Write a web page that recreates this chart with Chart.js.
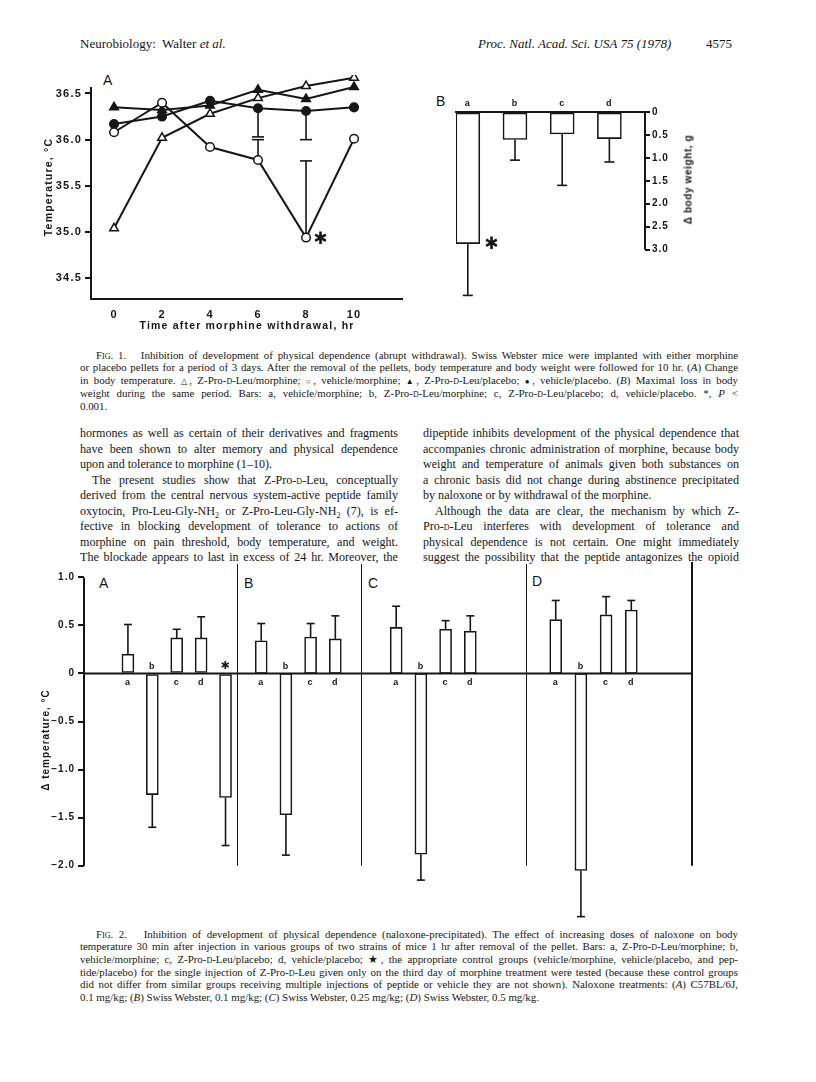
<!DOCTYPE html>
<html>
<head>
<meta charset="utf-8">
<script src="https://cdn.jsdelivr.net/npm/chart.js@4.4.1/dist/chart.umd.min.js"></script>
<style>
html,body{margin:0;padding:0;background:#fff;}
#page{position:relative;width:816px;height:1082px;overflow:hidden;font-family:"Liberation Serif","Times New Roman",serif;color:#161616;}
canvas{position:absolute;}
.t{position:absolute;white-space:nowrap;}
.cap{position:absolute;left:80px;width:658px;font-size:10.9px;line-height:13px;height:13px;text-align:justify;text-align-last:justify;}
.cap.l{text-align:left;text-align-last:left;}
.body{position:absolute;font-size:12.1px;line-height:16px;height:16px;text-align:justify;text-align-last:justify;}
.body.l{text-align:left;text-align-last:left;}
.lc{left:80px;width:318px;}
.rc{left:423px;width:316px;}
.sc{font-variant:small-caps;}
.panel{position:absolute;font-family:"Liberation Sans",Arial,sans-serif;font-size:14px;color:#161616;}
.rot{position:absolute;font-family:"Liberation Sans",Arial,sans-serif;font-weight:bold;font-size:10px;letter-spacing:0.6px;transform:rotate(-90deg);transform-origin:center center;white-space:nowrap;}
</style>
</head>
<body>
<div id="page">

<div class="t" style="left:80px;top:36px;font-size:13px;">Neurobiology:&nbsp; Walter <i>et al.</i></div>
<div class="t" style="left:478px;top:36px;font-size:13px;"><i>Proc. Natl. Acad. Sci. USA 75 (1978)</i></div>
<div class="t" style="left:706px;top:36px;font-size:13px;">4575</div>

<div class="panel" style="left:103px;top:72px;">A</div>
<div class="panel" style="left:436px;top:93px;">B</div>
<canvas id="c1a" width="373" height="257" style="left:30px;top:75px;"></canvas>
<canvas id="c1b" width="270" height="220" style="left:430px;top:85px;"></canvas>
<div class="rot" style="left:638px;top:174px;width:100px;text-align:center;">Δ body weight, g</div>

<div class="cap" style="top:348.5px;padding-left:16px;width:642px;">F<span class="sc">ig</span>. 1.&nbsp;&nbsp; Inhibition of development of physical dependence (abrupt withdrawal). Swiss Webster mice were implanted with either morphine</div>
<div class="cap" style="top:361.25px;">or placebo pellets for a period of 3 days. After the removal of the pellets, body temperature and body weight were followed for 10 hr. (<i>A</i>) Change</div>
<div class="cap" style="top:374px;">in body temperature. <span style="font-size:8px">△</span>, Z-Pro-<span class="sc">d</span>-Leu/morphine; <span style="font-size:8px">○</span>, vehicle/morphine; <span style="font-size:8px">▲</span>, Z-Pro-<span class="sc">d</span>-Leu/placebo; <span style="font-size:8px">●</span>, vehicle/placebo. (<i>B</i>) Maximal loss in body</div>
<div class="cap" style="top:386.75px;">weight during the same period. Bars: a, vehicle/morphine; b, Z-Pro-<span class="sc">d</span>-Leu/morphine; c, Z-Pro-<span class="sc">d</span>-Leu/placebo; d, vehicle/placebo. *, <i>P</i> &lt;</div>
<div class="cap l" style="top:399.5px;">0.001.</div>

<div class="body lc" style="top:425px;">hormones as well as certain of their derivatives and fragments</div>
<div class="body lc" style="top:440.5px;">have been shown to alter memory and physical dependence</div>
<div class="body lc l" style="top:456px;">upon and tolerance to morphine (1–10).</div>
<div class="body lc" style="top:471.5px;padding-left:12px;width:306px;">The present studies show that Z-Pro-<span class="sc">d</span>-Leu, conceptually</div>
<div class="body lc" style="top:487px;">derived from the central nervous system-active peptide family</div>
<div class="body lc" style="top:502.5px;">oxytocin, Pro-Leu-Gly-NH<sub style="font-size:8px;line-height:0">2</sub> or Z-Pro-Leu-Gly-NH<sub style="font-size:8px;line-height:0">2</sub> (7), is ef-</div>
<div class="body lc" style="top:518px;">fective in blocking development of tolerance to actions of</div>
<div class="body lc" style="top:533.5px;">morphine on pain threshold, body temperature, and weight.</div>
<div class="body lc" style="top:549px;">The blockade appears to last in excess of 24 hr. Moreover, the</div>

<div class="body rc" style="top:425px;">dipeptide inhibits development of the physical dependence that</div>
<div class="body rc" style="top:440.5px;">accompanies chronic administration of morphine, because body</div>
<div class="body rc" style="top:456px;">weight and temperature of animals given both substances on</div>
<div class="body rc" style="top:471.5px;">a chronic basis did not change during abstinence precipitated</div>
<div class="body rc l" style="top:487px;">by naloxone or by withdrawal of the morphine.</div>
<div class="body rc" style="top:502.5px;padding-left:12px;width:304px;">Although the data are clear, the mechanism by which Z-</div>
<div class="body rc" style="top:518px;">Pro-<span class="sc">d</span>-Leu interferes with development of tolerance and</div>
<div class="body rc" style="top:533.5px;">physical dependence is not certain. One might immediately</div>
<div class="body rc" style="top:549px;">suggest the possibility that the peptide antagonizes the opioid</div>

<div class="panel" style="left:99px;top:575px;">A</div>
<div class="panel" style="left:244px;top:575px;">B</div>
<div class="panel" style="left:368px;top:575px;">C</div>
<div class="panel" style="left:532px;top:573px;">D</div>
<canvas id="c2A" width="207" height="360" style="left:30px;top:560px;"></canvas>
<canvas id="c2B" width="124" height="360" style="left:237px;top:560px;"></canvas>
<canvas id="c2C" width="165" height="360" style="left:361px;top:560px;"></canvas>
<canvas id="c2D" width="170" height="360" style="left:526px;top:560px;"></canvas>

<div class="cap" style="top:927.5px;padding-left:16px;width:642px;">F<span class="sc">ig</span>. 2.&nbsp;&nbsp; Inhibition of development of physical dependence (naloxone-precipitated). The effect of increasing doses of naloxone on body</div>
<div class="cap" style="top:940.2px;">temperature 30 min after injection in various groups of two strains of mice 1 hr after removal of the pellet. Bars: a, Z-Pro-<span class="sc">d</span>-Leu/morphine; b,</div>
<div class="cap" style="top:952.9px;">vehicle/morphine; c, Z-Pro-<span class="sc">d</span>-Leu/placebo; d, vehicle/placebo; ★, the appropriate control groups (vehicle/morphine, vehicle/placebo, and pep-</div>
<div class="cap" style="top:965.6px;">tide/placebo) for the single injection of Z-Pro-<span class="sc">d</span>-Leu given only on the third day of morphine treatment were tested (because these control groups</div>
<div class="cap" style="top:978.3px;">did not differ from similar groups receiving multiple injections of peptide or vehicle they are not shown). Naloxone treatments: (<i>A</i>) C57BL/6J,</div>
<div class="cap l" style="top:991px;">0.1 mg/kg; (<i>B</i>) Swiss Webster, 0.1 mg/kg; (<i>C</i>) Swiss Webster, 0.25 mg/kg; (<i>D</i>) Swiss Webster, 0.5 mg/kg.</div>

</div>
<script>
// ---------- Fig. 1A data ----------
const fig1aHours = [0, 2, 4, 6, 8, 10];
const fig1aHourTicks = [0, 2, 4, 6, 8, 10];
const fig1aTempTicks = [34.5, 35.0, 35.5, 36.0, 36.5];
const zProMorphine   = [35.04, 36.02, 36.28, 36.45, 36.58, 36.67];   // open triangles
const vehicleMorphine = [36.08, 36.40, 35.92, 35.78, 34.94, 36.01];  // open circles
const zProPlacebo    = [36.35, 36.32, 36.37, 36.54, 36.44, 36.57];   // filled triangles
const vehiclePlacebo = [36.17, 36.25, 36.42, 36.34, 36.31, 36.35];   // filled circles
const vehicleMorphineErrUp  = [null, null, null, 0.22, 0.83, null];
const vehiclePlaceboErrDown = [null, null, null, 0.31, 0.31, null];

// ---------- Fig. 1B data ----------
const fig1bGroups = ['a', 'b', 'c', 'd'];
const fig1bWeightLoss = [2.87, 0.60, 0.48, 0.58];
const fig1bWeightErr  = [1.13, 0.45, 1.12, 0.51];
const fig1bTicks = [0, 0.5, 1.0, 1.5, 2.0, 2.5, 3.0];

// ---------- Fig. 2 data ----------
const fig2Panels = ['A', 'B', 'C', 'D'];
const fig2Ticks = [1.0, 0.5, 0, -0.5, -1.0, -1.5, -2.0];
const fig2GroupsA = ['a', 'b', 'c', 'd', '✱'];
const fig2GroupsBCD = ['a', 'b', 'c', 'd'];
const fig2ValuesA = [0.20, -1.26, 0.37, 0.37, -1.29];
const fig2ErrA    = [0.31, 0.34, 0.09, 0.22, 0.50];
const fig2ValuesB = [0.34, -1.47, 0.38, 0.36];
const fig2ErrB    = [0.18, 0.42, 0.14, 0.24];
const fig2ValuesC = [0.48, -1.88, 0.46, 0.44];
const fig2ErrC    = [0.22, 0.27, 0.09, 0.16];
const fig2ValuesD = [0.56, -2.05, 0.61, 0.66];
const fig2ErrD    = [0.20, 0.48, 0.19, 0.10];

const INK = '#161616';
Chart.defaults.font.family = '"Liberation Sans", Arial, sans-serif';
Chart.defaults.color = INK;

const fit = (w, h) => s => {
  if (w != null) s.width = w;
  if (h != null) s.height = h;
  s.paddingTop = s.paddingBottom = s.paddingLeft = s.paddingRight = 0;
};
const spacing = px => ({ id: 'ls', beforeDraw(c) { c.ctx.letterSpacing = px; } });
const fmt = v => (v < 0 ? '\u2212' : '') + (v === 0 ? '0' : Math.abs(v).toFixed(1));
const tickFont = { family: '"Liberation Sans", Arial, sans-serif', weight: 'bold', size: 11 };

function line(ctx, x1, y1, x2, y2) { ctx.beginPath(); ctx.moveTo(x1, y1); ctx.lineTo(x2, y2); ctx.stroke(); }

// ---------- Fig. 1A ----------
const mk = (vals, style, fill, label) => ({
  label, data: fig1aHours.map((h, i) => ({ x: h, y: vals[i] })),
  borderColor: INK, borderWidth: 2, tension: 0,
  pointStyle: style, pointRadius: style === 'triangle' ? 5 : 4.3,
  pointBackgroundColor: fill, pointBorderColor: INK, pointBorderWidth: 1.5
});
new Chart(document.getElementById('c1a'), {
  type: 'line',
  data: { datasets: [
    mk(vehicleMorphine, 'circle', '#fff', 'vehicle/morphine'),
    mk(zProMorphine, 'triangle', '#fff', 'Z-Pro-D-Leu/morphine'),
    mk(zProPlacebo, 'triangle', INK, 'Z-Pro-D-Leu/placebo'),
    mk(vehiclePlacebo, 'circle', INK, 'vehicle/placebo')
  ] },
  options: {
    responsive: false, animation: false,
    layout: { padding: 0, autoPadding: false },
    plugins: { legend: { display: false }, tooltip: { enabled: false } },
    scales: {
      x: {
        type: 'linear', min: -0.96, max: 12.04,
        afterBuildTicks: s => { s.ticks = fig1aHourTicks.map(v => ({ value: v })); },
        grid: { drawOnChartArea: false, drawTicks: false },
        border: { display: true, color: INK, width: 2 },
        ticks: { padding: 9, font: tickFont, color: INK, maxRotation: 0 },
        title: { display: true, text: 'Time after morphine withdrawal, hr', font: { weight: 'bold', size: 10.5 }, padding: 0, color: INK },
        afterFit: fit(null, 33)
      },
      y: {
        min: 34.275, max: 36.7,
        afterBuildTicks: s => { s.ticks = fig1aTempTicks.map(v => ({ value: v })); },
        grid: { drawOnChartArea: false, drawTicks: true, tickLength: 6, color: INK, lineWidth: 2 },
        border: { display: false },
        ticks: { padding: 3, font: tickFont, color: INK, callback: v => v.toFixed(1) },
        title: { display: true, text: 'Temperature, °C', font: { weight: 'bold', size: 10.5 }, padding: { top: 13, bottom: 0 }, color: INK },
        afterFit: fit(61, null)
      }
    }
  },
  plugins: [spacing('1.2px'), {
    id: 'decor1a',
    beforeDatasetsDraw(chart) {
      const { ctx, scales: { x, y }, chartArea } = chart;
      ctx.save(); ctx.strokeStyle = INK; ctx.lineWidth = 2;
      line(ctx, chartArea.left, y.getPixelForValue(36.57), chartArea.left, chartArea.bottom + 1);
      ctx.lineWidth = 1.6;
      [[vehicleMorphine, vehicleMorphineErrUp, 1], [vehiclePlacebo, vehiclePlaceboErrDown, -1]].forEach(([vals, errs, dir]) => {
        errs.forEach((e, i) => {
          if (e == null) return;
          const px = x.getPixelForValue(fig1aHours[i]);
          const p0 = y.getPixelForValue(vals[i]);
          const p1 = y.getPixelForValue(vals[i] + dir * e);
          line(ctx, px, p0, px, p1);
          line(ctx, px - 6, p1, px + 6, p1);
        });
      });
      ctx.restore();
    },
    afterDatasetsDraw(chart) {
      const { ctx, scales: { x, y } } = chart;
      const i = vehicleMorphine.indexOf(Math.min(...vehicleMorphine));
      ctx.save(); ctx.fillStyle = INK; ctx.font = '17px "DejaVu Sans"'; ctx.textAlign = 'center'; ctx.textBaseline = 'middle';
      ctx.fillText('✱', x.getPixelForValue(fig1aHours[i]) + 15, y.getPixelForValue(vehicleMorphine[i]) + 2);
      ctx.restore();
    }
  }]
});

// ---------- Fig. 1B ----------
new Chart(document.getElementById('c1b'), {
  type: 'bar',
  data: { datasets: [{
    data: fig1bWeightLoss.map((v, i) => ({ x: i + 1, y: v })),
    backgroundColor: '#fff', borderColor: INK, borderWidth: 1.6, borderSkipped: false, barThickness: 24
  }] },
  options: {
    responsive: false, animation: false,
    layout: { padding: { left: 26, right: 0, top: 0, bottom: 5 }, autoPadding: false },
    plugins: { legend: { display: false }, tooltip: { enabled: false } },
    scales: {
      x: {
        type: 'linear', position: 'top', min: 0.75, max: 4.755, offset: false,
        afterBuildTicks: s => { s.ticks = fig1bGroups.map((g, i) => ({ value: i + 1 })); },
        grid: { drawOnChartArea: false, drawTicks: false },
        border: { display: true, color: INK, width: 2 },
        ticks: { padding: 3, font: { weight: 'bold', size: 9 }, color: INK, callback: v => fig1bGroups[v - 1] },
        afterFit: fit(null, 27)
      },
      y: {
        position: 'right', reverse: true, min: 0, max: 4.1,
        afterBuildTicks: s => { s.ticks = fig1bTicks.map(v => ({ value: v })); },
        grid: { drawOnChartArea: false, drawTicks: true, tickLength: 5, color: INK, lineWidth: 2 },
        border: { display: false },
        ticks: { padding: 2, font: { weight: 'bold', size: 10 }, color: INK, callback: v => (v === 0 ? '0' : v.toFixed(1)) },
        afterFit: fit(55, null)
      }
    }
  },
  plugins: [spacing('1px'), {
    id: 'decor1b',
    afterDatasetsDraw(chart) {
      const { ctx, scales: { y }, chartArea } = chart;
      const meta = chart.getDatasetMeta(0);
      ctx.save(); ctx.strokeStyle = INK; ctx.lineWidth = 2;
      line(ctx, chartArea.right, y.getPixelForValue(0), chartArea.right, y.getPixelForValue(3.0));
      ctx.lineWidth = 1.6;
      meta.data.forEach((el, i) => {
        const p1 = y.getPixelForValue(fig1bWeightLoss[i] + fig1bWeightErr[i]);
        line(ctx, el.x, el.y, el.x, p1);
        line(ctx, el.x - 5, p1, el.x + 5, p1);
      });
      const a = meta.data[0];
      ctx.fillStyle = INK; ctx.font = '17px "DejaVu Sans"'; ctx.textAlign = 'center'; ctx.textBaseline = 'middle';
      ctx.fillText('✱', a.x + 24, a.y + 1);
      ctx.restore();
    }
  }]
});

// ---------- Fig. 2 ----------
const fig2Values = { A: fig2ValuesA, B: fig2ValuesB, C: fig2ValuesC, D: fig2ValuesD };
const fig2Errs = { A: fig2ErrA, B: fig2ErrB, C: fig2ErrC, D: fig2ErrD };
const fig2Layout = {
  A: { axisW: 54, padR: 0, min: -0.80, max: 5.47 },
  B: { axisW: 0, padR: 0, min: 0.02, max: 5.04 },
  C: { axisW: 0, padR: 0, min: -0.425, max: 6.255 },
  D: { axisW: 0, padR: 4, min: -0.18, max: 6.41 }
};
fig2Panels.forEach(p => {
  const vals = fig2Values[p], errs = fig2Errs[p], L = fig2Layout[p];
  const groups = p === 'A' ? fig2GroupsA : fig2GroupsBCD;
  new Chart(document.getElementById('c2' + p), {
    type: 'bar',
    data: { datasets: [{
      data: vals.map((v, i) => ({ x: i + 1, y: v })),
      backgroundColor: '#fff', borderColor: INK, borderWidth: 1.6, borderSkipped: false, barThickness: 12
    }] },
    options: {
      responsive: false, animation: false,
      layout: { padding: { left: 0, right: L.padR, top: 0, bottom: 0 }, autoPadding: false },
      plugins: { legend: { display: false }, tooltip: { enabled: false } },
      scales: {
        x: { type: 'linear', min: L.min, max: L.max, display: false, offset: false },
        y: {
          display: p === 'A', min: -2.565, max: 1.181,
          afterBuildTicks: s => { s.ticks = fig2Ticks.map(v => ({ value: v })); },
          grid: { drawOnChartArea: false, drawTicks: true, tickLength: 6, color: INK, lineWidth: 2 },
          border: { display: false },
          ticks: { padding: 3, font: { weight: 'bold', size: 10 }, color: INK, callback: v => fmt(v) },
          title: { display: true, text: 'Δ temperature, °C', font: { weight: 'bold', size: 10 }, padding: { top: 10, bottom: 0 }, color: INK },
          afterFit: fit(L.axisW, null)
        }
      }
    },
    plugins: [spacing('1px'), {
      id: 'decor2' + p,
      afterDatasetsDraw(chart) {
        const { ctx, scales: { y }, chartArea } = chart;
        const meta = chart.getDatasetMeta(0);
        const y0 = y.getPixelForValue(0), yBot = y.getPixelForValue(-2.0);
        ctx.save(); ctx.strokeStyle = INK; ctx.lineWidth = 2;
        line(ctx, chartArea.left, y0, chartArea.right, y0);
        if (p === 'A') line(ctx, chartArea.left, y.getPixelForValue(1.0), chartArea.left, yBot);
        else line(ctx, chartArea.left, chartArea.top + 4, chartArea.left, yBot);
        if (p === 'D') line(ctx, chartArea.right, chartArea.top + 2, chartArea.right, yBot);
        ctx.lineWidth = 1.6;
        ctx.fillStyle = INK; ctx.textAlign = 'center'; ctx.textBaseline = 'middle';
        meta.data.forEach((el, i) => {
          const v = vals[i], dir = v >= 0 ? 1 : -1;
          const p1 = y.getPixelForValue(v + dir * errs[i]);
          line(ctx, el.x, el.y, el.x, p1);
          line(ctx, el.x - 4, p1, el.x + 4, p1);
          const g = groups[i];
          ctx.font = g === '✱' ? '11px "DejaVu Sans"' : 'bold 9px "Liberation Sans", Arial, sans-serif';
          ctx.fillText(g, el.x, v >= 0 ? y0 + 9 : y0 - 7);
        });
        ctx.restore();
      }
    }]
  });
});
</script>
</body>
</html>
